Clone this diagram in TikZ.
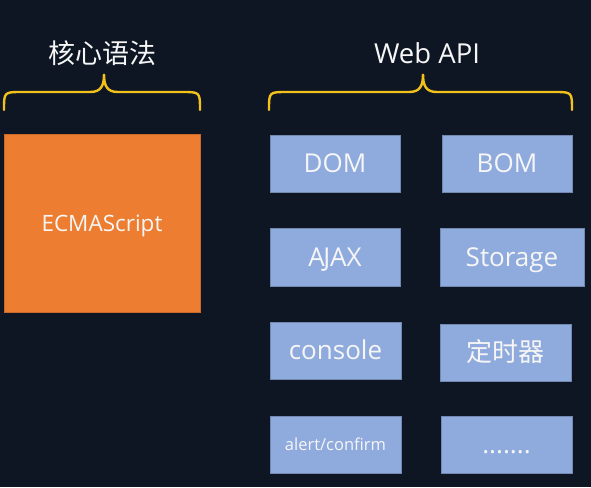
\documentclass[tikz,border=0pt]{standalone}
\usepackage{fontspec}
\setmainfont{Open Sans}
\newfontfamily\cjk{Noto Sans CJK SC}
\definecolor{bg}{HTML}{0E1624}
\definecolor{boxblue}{HTML}{8FAADC}
\definecolor{boxorange}{HTML}{ED7D31}
\definecolor{bracecol}{HTML}{F2C21B}
\definecolor{txt}{HTML}{F6F6F6}
\begin{document}
\begin{tikzpicture}[x=1pt,y=-1pt,
  bluebox/.style={fill=boxblue,draw=boxblue!80!black,line width=0.6pt,text=txt,font=\fontsize{26}{30}\selectfont,inner sep=0pt,text height=18.6pt,text depth=0pt},
  orangebox/.style={fill=boxorange,draw=boxorange!85!black,line width=0.6pt,text=txt,font=\fontsize{22.5}{26}\selectfont,inner sep=0pt,text height=16pt,text depth=0pt},
  title/.style={text=txt,inner sep=0pt},
  bracestyle/.style={draw=bracecol,line width=2.4pt,line cap=round}]
\fill[bg] (0,0) rectangle (591,487);
\useasboundingbox (0,0) rectangle (591,487);
% titles
\node[title,font=\cjk\fontsize{27}{30}\selectfont] (t1) at (102,53) {核心语法};
\node[title,font=\fontsize{27.5}{30}\selectfont] (t2) at (427,53) {Web API};
% braces
\draw[bracestyle] (4,110) .. controls (4,92) .. (22,92) -- (90,92)
  .. controls (101,92) and (104,86) .. (104,74)
  .. controls (104,86) and (107,92) .. (118,92) -- (182,92)
  .. controls (200,92) .. (200,110);
\draw[bracestyle] (269,110) .. controls (269,92) .. (287,92) -- (409,92)
  .. controls (420,92) and (423,86) .. (423,74)
  .. controls (423,86) and (426,92) .. (437,92) -- (554,92)
  .. controls (572,92) .. (572,110);
% boxes
\node[orangebox,minimum width=196pt,minimum height=178pt] (ecma) at (102,223) {ECMAScript};
\node[bluebox,minimum width=130pt,minimum height=57pt] (dom) at (335,163.5) {DOM};
\node[bluebox,minimum width=130pt,minimum height=57pt] (bom) at (507,163.5) {BOM};
\node[bluebox,minimum width=130pt,minimum height=58pt] (ajax) at (335,257) {A\kern-1.5pt JAX};
\node[bluebox,minimum width=144pt,minimum height=58pt] (storage) at (512,257) {Storage};
\node[bluebox,minimum width=131pt,minimum height=57pt] (console) at (335.5,350.5) {console};
\node[bluebox,minimum width=131pt,minimum height=57pt,font=\cjk\fontsize{26}{30}\selectfont,text height=20pt,text depth=2pt] (timer) at (505.5,352.5) {定时器};
\node[bluebox,minimum width=131pt,minimum height=57pt,font=\fontsize{16.5}{20}\selectfont,text height=12pt] (alert) at (335.5,444.5) {alert/confirm};
\node[bluebox,minimum width=131pt,minimum height=57pt] (more) at (506.5,444.5) {.......};
\end{tikzpicture}
\end{document}
